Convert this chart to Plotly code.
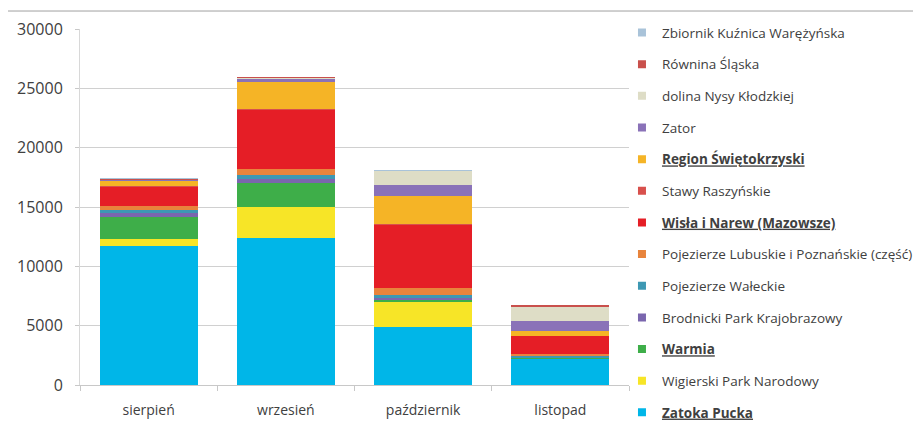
import plotly.graph_objects as go

MONTHS = ["sierpień", "wrzesień", "październik", "listopad"]

# stacking order, bottom to top
SERIES = [
    "<b><u>Zatoka Pucka</u></b>",
    "Wigierski Park Narodowy",
    "<b><u>Warmia</u></b>",
    "Brodnicki Park Krajobrazowy",
    "Pojezierze Wałeckie",
    "Pojezierze Lubuskie i Poznańskie (część)",
    "<b><u>Wisła i Narew (Mazowsze)</u></b>",
    "Stawy Raszyńskie",
    "<b><u>Region Świętokrzyski</u></b>",
    "Zator",
    "dolina Nysy Kłodzkiej",
    "Równina Śląska",
    "Zbiornik Kuźnica Warężyńska",
]
COLORS = [
    "#00B6E8", "#F7E527", "#3EAE49", "#7A66AE", "#3D98B3", "#E8843C",
    "#E51E26", "#D8504C", "#F5B426", "#8A72B8", "#DEDDC6", "#C9504C", "#A9C3D9",
]

ZATOKA = [11700, 12350, 4850, 2250]
WIGIERSKI = [600, 2650, 2200, 0]
WARMIA = [1870, 2050, 100, 100]
BRODNICKI = [300, 300, 200, 0]
WALECKIE = [300, 350, 250, 120]
LUBUSKIE = [280, 500, 550, 180]
WISLA = [1690, 5000, 5400, 1450]
STAWY = [50, 50, 50, 0]
SWIETOKRZYSKI = [450, 2300, 2300, 420]
ZATOR = [50, 300, 950, 900]
DOLINA = [50, 30, 1200, 1130]
ROWNINA = [30, 20, 30, 170]
ZBIORNIK = [30, 0, 20, 0]

VALUES = [ZATOKA, WIGIERSKI, WARMIA, BRODNICKI, WALECKIE, LUBUSKIE, WISLA,
          STAWY, SWIETOKRZYSKI, ZATOR, DOLINA, ROWNINA, ZBIORNIK]

TEXT = "#404040"
FONT = "'Open Sans', sans-serif"

fig = go.Figure()
for i, (name, vals, col) in enumerate(zip(SERIES, VALUES, COLORS)):
    fig.add_trace(go.Bar(
        x=MONTHS, y=vals, name=name,
        marker_color=col, marker_line_width=0,
        showlegend=False,
    ))
    # small square legend keys, like the spreadsheet legend
    fig.add_trace(go.Scatter(
        x=[None], y=[None], mode="markers", name=name,
        marker=dict(symbol="square", size=8, color=col),
        legendgroup=f"g{i}", legendrank=100 - i,
    ))

# outer chart frame
fig.add_shape(type="rect", xref="paper", yref="paper",
              x0=-0.134, x1=1.5255, y0=-0.2, y1=1.0505,
              line=dict(color="#A0A0A0", width=1), layer="below")

# the page body adds an 8px offset, so margins are reduced by 8
fig.update_layout(
    width=921, height=422,
    margin=dict(l=72, r=300, t=21, b=44.5, autoexpand=False),
    barmode="stack", bargap=0.285,
    plot_bgcolor="white", paper_bgcolor="white",
    font=dict(family=FONT, color=TEXT),
    showlegend=True,
    legend=dict(
        x=0.9872, y=1.033, xanchor="left", yanchor="top",
        traceorder="grouped", tracegroupgap=11.1,
        font=dict(size=13.5, color=TEXT),
        itemwidth=30, maxheight=600,
        bgcolor="rgba(0,0,0,0)",
    ),
    xaxis=dict(
        showline=True, linecolor="#C8C8C8",
        ticks="outside", ticklen=5, tickcolor="#C8C8C8",
        tickson="boundaries", ticklabelstandoff=12,
        tickfont=dict(size=14, color=TEXT),
    ),
    yaxis=dict(
        range=[0, 30000], dtick=5000, tickformat="d",
        showgrid=True, gridcolor="#D0D0D0",
        showline=True, linecolor="#D8D8D8",
        ticks="outside", ticklen=4, tickcolor="#C8C8C8",
        ticklabelstandoff=9,
        zeroline=False,
        tickfont=dict(size=16, color=TEXT),
    ),
)

fig.write_html("out.html")
